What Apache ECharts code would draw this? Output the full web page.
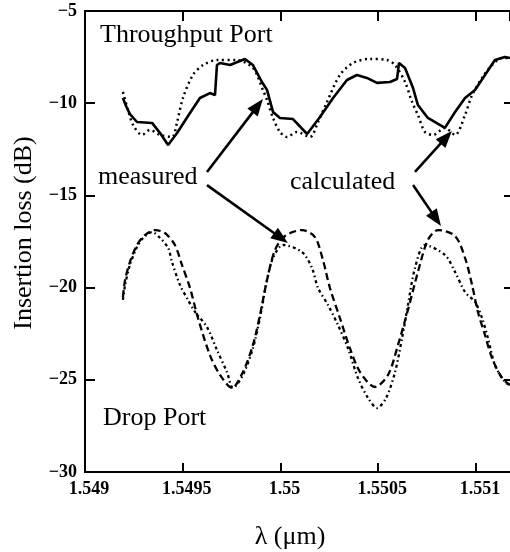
<!DOCTYPE html>
<html><head><meta charset="utf-8">
<script src="https://cdn.jsdelivr.net/npm/echarts@6/dist/echarts.min.js"></script>
<style>html,body{margin:0;padding:0;background:#fff}#c{width:510px;height:552px}</style>
</head><body><div id="c"></div>
<script>
const xTickLabels = ['1.549','1.5495','1.55','1.5505','1.551'];
const yTickLabels = ['\u221230','\u221225','\u221220','\u221215','\u221210','\u22125'];

// Throughput port, measured (solid)
const thruMeasX = [1.549194,1.549210,1.549230,1.549266,1.549343,1.549384,1.549425,1.549471,1.549537,1.549588,1.549639,1.549665,1.549675,1.549691,1.549742,1.549818,1.549859,1.549905,1.549931,1.549962,1.549997,1.550064,1.550136,1.550202,1.550269,1.550340,1.550391,1.550442,1.550494,1.550560,1.550596,1.550606,1.550637,1.550678,1.550703,1.550754,1.550841,1.550893,1.550944,1.550995,1.551046,1.551097,1.551148,1.551174];
const thruMeasY = [-9.72,-10.15,-10.59,-11.02,-11.07,-11.62,-12.27,-11.62,-10.53,-9.72,-9.45,-9.56,-7.93,-7.82,-7.93,-7.60,-7.93,-8.85,-9.28,-10.48,-10.80,-10.86,-11.67,-10.75,-9.72,-8.74,-8.47,-8.63,-8.90,-8.85,-8.69,-7.82,-8.09,-9.18,-10.10,-10.80,-11.34,-10.48,-9.72,-9.28,-8.47,-7.66,-7.49,-7.55];

// Throughput port, calculated (dotted)
const thruCalcX = [1.549194,1.549220,1.549246,1.549292,1.549332,1.549384,1.549445,1.549471,1.549501,1.549552,1.549604,1.549675,1.549777,1.549859,1.549910,1.549931,1.549962,1.549997,1.550033,1.550084,1.550151,1.550192,1.550238,1.550304,1.550371,1.550458,1.550545,1.550586,1.550637,1.550673,1.550703,1.550739,1.550780,1.550841,1.550893,1.550944,1.550980,1.551031,1.551082,1.551133,1.551174];
const thruCalcY = [-9.39,-10.37,-11.18,-11.72,-11.45,-11.72,-11.83,-11.02,-9.72,-8.47,-7.93,-7.66,-7.66,-8.09,-9.28,-9.83,-10.80,-11.56,-11.83,-11.56,-11.83,-11.02,-9.93,-8.47,-7.82,-7.60,-7.66,-7.93,-8.85,-9.93,-10.64,-11.56,-11.72,-11.34,-11.72,-10.64,-9.56,-8.63,-7.93,-7.55,-7.55];

// Drop port, calculated (dashed)
const dropCalcX = [1.549194,1.549205,1.549230,1.549266,1.549307,1.549358,1.549409,1.549460,1.549496,1.549537,1.549578,1.549639,1.549691,1.549752,1.549808,1.549859,1.549895,1.549931,1.549972,1.550023,1.550110,1.550176,1.550217,1.550253,1.550304,1.550355,1.550407,1.550483,1.550550,1.550601,1.550652,1.550703,1.550754,1.550806,1.550893,1.550944,1.550980,1.551010,1.551046,1.551082,1.551133,1.551174];
const dropCalcY = [-20.51,-19.59,-18.61,-17.69,-17.15,-16.88,-17.04,-17.69,-18.77,-20.02,-21.65,-23.66,-24.74,-25.44,-24.58,-23.11,-21.49,-19.59,-17.96,-17.20,-16.88,-17.26,-18.50,-20.02,-21.65,-23.28,-24.58,-25.39,-24.74,-23.11,-21.21,-19.15,-17.42,-16.88,-17.20,-18.39,-19.86,-21.32,-22.57,-23.82,-24.90,-25.28];

// Drop port, measured (dotted)
const dropMeasX = [1.549194,1.549205,1.549230,1.549266,1.549297,1.549343,1.549384,1.549425,1.549445,1.549486,1.549527,1.549563,1.549624,1.549675,1.549726,1.549757,1.549808,1.549859,1.549895,1.549931,1.549962,1.550013,1.550110,1.550161,1.550192,1.550243,1.550294,1.550345,1.550396,1.550448,1.550494,1.550540,1.550586,1.550622,1.550652,1.550688,1.550739,1.550841,1.550893,1.550944,1.550995,1.551031,1.551061,1.551097,1.551148,1.551174];
const dropMeasY = [-20.67,-19.86,-18.77,-17.80,-17.31,-16.99,-17.31,-17.85,-18.61,-19.86,-20.67,-21.32,-22.14,-23.38,-24.58,-25.44,-24.74,-23.28,-21.65,-19.59,-18.39,-17.69,-18.07,-18.94,-20.02,-20.94,-22.03,-23.28,-24.90,-25.99,-26.53,-25.99,-24.58,-22.73,-20.94,-18.94,-17.69,-18.23,-19.15,-20.24,-20.78,-21.65,-22.73,-24.20,-25.12,-25.28];

// annotation arrows (data coords): [startX, startY, tipX, tipY]
const arrows = [
  [1.549624, -13.73, 1.549910, -9.77],
  [1.549624, -14.44, 1.550038, -17.58],
  [1.550688, -13.73, 1.550877, -11.51],
  [1.550678, -14.44, 1.550821, -16.66]
];

const FONT = '"Liberation Serif","Times New Roman",serif';
const zip = (xs, ys) => xs.map((x, i) => [x, ys[i]]);
const X0 = 1.549, XI = 0.0005, Y0 = -30, YI = 5;

const chart = echarts.init(document.getElementById('c'), null, {renderer: 'canvas'});
const axisLine = {show: true, lineStyle: {color: '#000', width: 2}};
const tickStyle = {color: '#000', width: 2};
const xFmt = v => { const i = Math.round((v - X0) / XI); return Math.abs(v - (X0 + i * XI)) < 1e-8 ? (xTickLabels[i] || '') : ''; };
const yFmt = v => { const i = Math.round((v - Y0) / YI); return Math.abs(v - (Y0 + i * YI)) < 1e-8 ? (yTickLabels[i] || '') : ''; };

const lineBase = {type: 'line', showSymbol: false, symbol: 'none', silent: true, animation: false};
const textGraphics = [
  {type: 'text', left: 100, top: 22, style: {text: 'Throughput Port', font: '26px ' + FONT, fill: '#000'}},
  {type: 'text', left: 98, top: 164, style: {text: 'measured', font: '26px ' + FONT, fill: '#000'}},
  {type: 'text', left: 290, top: 169, style: {text: 'calculated', font: '26px ' + FONT, fill: '#000'}},
  {type: 'text', left: 103, top: 405, style: {text: 'Drop Port', font: '26px ' + FONT, fill: '#000'}},
  {type: 'text', x: 290, y: 537, style: {text: '\u03bb (\u03bcm)', font: '26px ' + FONT, fill: '#000', align: 'center', verticalAlign: 'middle'}},
  {type: 'text', x: 24, y: 233, rotation: Math.PI / 2, style: {text: 'Insertion loss (dB)', font: '26px ' + FONT, fill: '#000', align: 'center', verticalAlign: 'middle'}}
];

chart.setOption({
  backgroundColor: '#fff',
  animation: false,
  grid: {left: 85, right: 0, top: 11, bottom: 80},
  xAxis: [
    {type: 'value', min: X0, max: 1.551174, interval: XI, position: 'bottom',
     axisLine, splitLine: {show: false},
     axisTick: {show: true, inside: true, length: 9, lineStyle: tickStyle},
     axisLabel: {formatter: xFmt, color: '#000', fontFamily: FONT, fontWeight: 'bold', fontSize: 18, margin: 8, padding: [0, 0, 0, 8], showMaxLabel: false}},
    {type: 'value', min: X0, max: 1.551174, interval: XI, position: 'top',
     axisLine, splitLine: {show: false},
     axisTick: {show: true, inside: true, length: 10, lineStyle: tickStyle},
     axisLabel: {show: false}}
  ],
  yAxis: [
    {type: 'value', min: Y0, max: -5, interval: YI, position: 'left',
     axisLine, splitLine: {show: false},
     axisTick: {show: true, inside: true, length: 10, lineStyle: tickStyle},
     axisLabel: {formatter: yFmt, color: '#000', fontFamily: FONT, fontWeight: 'bold', fontSize: 18, margin: 8, padding: [5, 0, 0, 0]}},
    {type: 'value', min: Y0, max: -5, interval: YI, position: 'right',
     axisLine: {show: false}, splitLine: {show: false},
     axisTick: {show: true, inside: true, length: 6, lineStyle: tickStyle},
     axisLabel: {show: false}}
  ],
  series: [
    Object.assign({}, lineBase, {name: 'Throughput measured', data: zip(thruMeasX, thruMeasY),
      lineStyle: {color: '#000', width: 2.6, type: 'solid'}, z: 5}),
    Object.assign({}, lineBase, {name: 'Throughput calculated', data: zip(thruCalcX, thruCalcY), smooth: 0.3,
      lineStyle: {color: '#000', width: 2.5, type: [2, 3.5]}}),
    Object.assign({}, lineBase, {name: 'Drop calculated', data: zip(dropCalcX, dropCalcY), smooth: 0.3,
      lineStyle: {color: '#000', width: 2.3, type: [7, 4]}}),
    Object.assign({}, lineBase, {name: 'Drop measured', data: zip(dropMeasX, dropMeasY), smooth: 0.3,
      lineStyle: {color: '#000', width: 2.3, type: [3, 3, 1.5, 3]}})
  ],
  graphic: textGraphics
});

// arrows: positioned through the chart's own scales
const HEAD_LEN = 17, HEAD_HALF = 6.5;
const arrowGraphics = [];
arrows.forEach((a, k) => {
  const p0 = chart.convertToPixel({gridIndex: 0}, [a[0], a[1]]);
  const p1 = chart.convertToPixel({gridIndex: 0}, [a[2], a[3]]);
  const dx = p1[0] - p0[0], dy = p1[1] - p0[1];
  const L = Math.hypot(dx, dy), ux = dx / L, uy = dy / L;
  const bx = p1[0] - ux * HEAD_LEN, by = p1[1] - uy * HEAD_LEN;
  arrowGraphics.push({type: 'line', id: 'al' + k, shape: {x1: p0[0], y1: p0[1], x2: bx + ux * 2, y2: by + uy * 2},
    style: {stroke: '#000', lineWidth: 2.6}, z: 10, silent: true});
  arrowGraphics.push({type: 'polygon', id: 'ah' + k, shape: {points: [
      [p1[0], p1[1]], [bx - uy * HEAD_HALF, by + ux * HEAD_HALF], [bx + uy * HEAD_HALF, by - ux * HEAD_HALF]]},
    style: {fill: '#000'}, z: 10, silent: true});
});
chart.setOption({graphic: textGraphics.concat(arrowGraphics)}, {replaceMerge: ['graphic']});
</script>
</body></html>
